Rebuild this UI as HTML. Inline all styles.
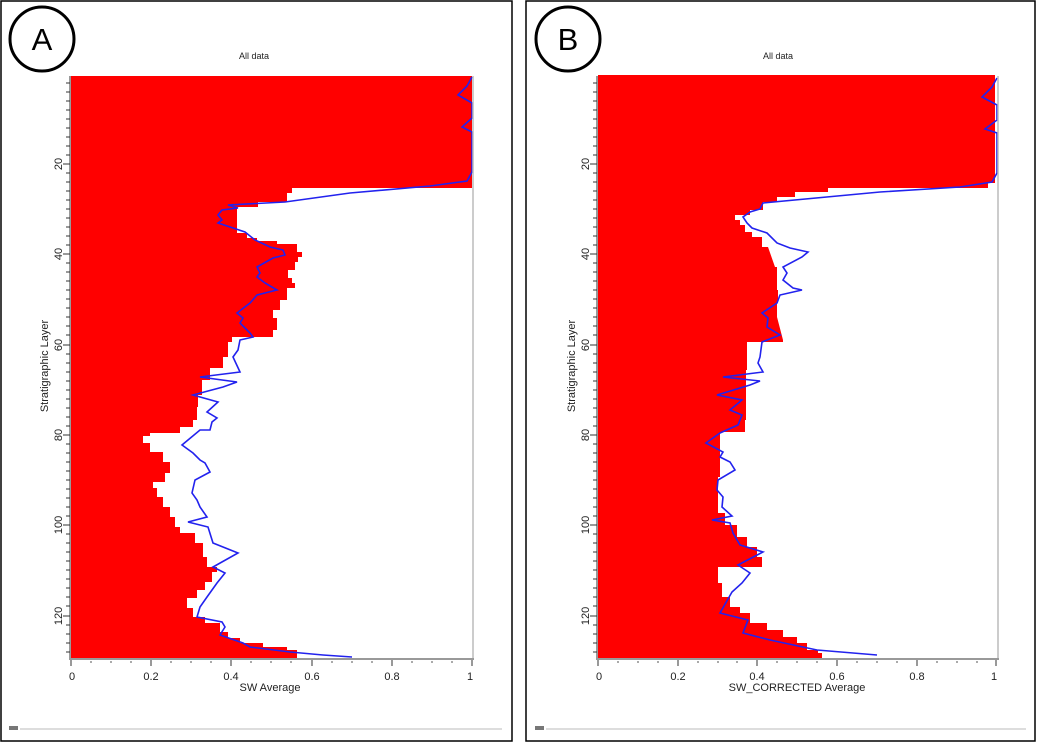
<!DOCTYPE html>
<html><head><meta charset="utf-8"><style>
html,body{margin:0;padding:0;background:#fff;}
svg{display:block;}
text{font-family:"Liberation Sans",sans-serif;fill:#222;}
</style></head><body>
<svg width="1037" height="743" viewBox="0 0 1037 743" xmlns="http://www.w3.org/2000/svg">
<rect x="1" y="1" width="511" height="740" fill="#fff" stroke="#000" stroke-width="1.5"/>
<rect x="526" y="1" width="509" height="740" fill="#fff" stroke="#000" stroke-width="1.5"/>

<!-- Panel A -->
<circle cx="42" cy="39" r="32" fill="none" stroke="#000" stroke-width="3"/>
<text x="42" y="50" font-size="31" text-anchor="middle" style="fill:#000">A</text>
<text x="254" y="59" font-size="9" text-anchor="middle">All data</text>
<polygon fill="#ff0000" points="71,76 472,76 472,188 292,188 292,193 287,193 287,202 258,202 258,207 237,207 237,233 247,233 247,238 257,238 257,241 277,241 277,244 297,244 297,252 302,252 302,257 298,257 298,262 295,262 295,270 288,270 288,278 292,278 292,283 295,283 295,288 287,288 287,300 280,300 280,310 273,310 273,318 277,318 277,330 273,330 273,337 232,337 232,342 228,342 228,357 223,357 223,368 210,368 210,380 202,380 202,395 198,395 198,407 197,407 197,420 193,420 193,427 180,427 180,433 150,433 150,436 143,436 143,443 150,443 150,452 163,452 163,462 170,462 170,473 165,473 165,482 153,482 153,488 157,488 157,497 163,497 163,507 170,507 170,517 175,517 175,527 180,527 180,533 195,533 195,543 203,543 203,557 207,557 207,567 217,567 217,572 212,572 212,582 205,582 205,590 197,590 197,598 187,598 187,608 193,608 193,617 205,617 205,623 220,623 220,632 228,632 228,638 240,638 240,643 263,643 263,647 287,647 287,650 297,650 297,658 71,658"/>
<polyline fill="none" stroke="#2222ee" stroke-width="1.6" points="472,77 467,86 458,95 472,103 472,118 462,127 472,132 472,172 467,181 430,186 350,193 285,202 228,205 238,208 222,210 218,215 222,220 218,223 245,232 255,240 270,247 283,250 285,255 273,258 257,267 260,273 257,277 265,283 277,290 257,295 250,303 237,313 243,318 240,323 250,333 253,337 240,340 238,350 233,357 240,372 200,377 237,382 223,387 193,395 218,402 207,412 217,418 212,422 210,430 200,430 182,445 193,453 200,460 205,463 210,472 195,480 192,493 197,500 200,507 207,517 188,522 208,527 213,543 238,553 213,567 225,573 217,583 207,597 200,607 197,617 222,622 225,627 220,635 243,643 250,647 290,652 323,655 352,657"/>
<line x1="473" y1="76" x2="473" y2="659" stroke="#bbb" stroke-width="1.5"/>
<line x1="70" y1="76" x2="70" y2="660" stroke="#333" stroke-width="1"/>
<line x1="70" y1="659" x2="474" y2="659" stroke="#999" stroke-width="2"/>
<g stroke="#333" stroke-width="1">
<line x1="71" y1="660" x2="71" y2="666"/><line x1="151" y1="660" x2="151" y2="666"/><line x1="231" y1="660" x2="231" y2="666"/><line x1="312" y1="660" x2="312" y2="666"/><line x1="392" y1="660" x2="392" y2="666"/><line x1="472" y1="660" x2="472" y2="666"/>
</g>
<g stroke="#555" stroke-width="1">
<line x1="91" y1="661" x2="91" y2="663"/><line x1="111" y1="661" x2="111" y2="663"/><line x1="131" y1="661" x2="131" y2="663"/>
<line x1="171" y1="661" x2="171" y2="663"/><line x1="191" y1="661" x2="191" y2="663"/><line x1="211" y1="661" x2="211" y2="663"/>
<line x1="251" y1="661" x2="251" y2="663"/><line x1="271" y1="661" x2="271" y2="663"/><line x1="291" y1="661" x2="291" y2="663"/>
<line x1="332" y1="661" x2="332" y2="663"/><line x1="352" y1="661" x2="352" y2="663"/><line x1="372" y1="661" x2="372" y2="663"/>
<line x1="412" y1="661" x2="412" y2="663"/><line x1="432" y1="661" x2="432" y2="663"/><line x1="452" y1="661" x2="452" y2="663"/>
</g>
<g font-size="11" text-anchor="middle">
<text x="72" y="680">0</text><text x="151" y="680">0.2</text><text x="231" y="680">0.4</text><text x="312" y="680">0.6</text><text x="392" y="680">0.8</text><text x="470" y="680">1</text>
</g>
<text x="270" y="691" font-size="11" text-anchor="middle">SW Average</text>
<g stroke="#333" stroke-width="1" id="yticksA">
<line x1="66" y1="83" x2="70" y2="83"/><line x1="66" y1="92" x2="70" y2="92"/><line x1="66" y1="101" x2="70" y2="101"/><line x1="66" y1="110" x2="70" y2="110"/><line x1="66" y1="119" x2="70" y2="119"/><line x1="66" y1="128" x2="70" y2="128"/><line x1="66" y1="137" x2="70" y2="137"/><line x1="66" y1="146" x2="70" y2="146"/><line x1="66" y1="155" x2="70" y2="155"/><line x1="63" y1="164" x2="70" y2="164"/>
<line x1="66" y1="173" x2="70" y2="173"/><line x1="66" y1="182" x2="70" y2="182"/><line x1="66" y1="191" x2="70" y2="191"/><line x1="66" y1="200" x2="70" y2="200"/><line x1="66" y1="209" x2="70" y2="209"/><line x1="66" y1="218" x2="70" y2="218"/><line x1="66" y1="227" x2="70" y2="227"/><line x1="66" y1="236" x2="70" y2="236"/><line x1="66" y1="245" x2="70" y2="245"/><line x1="63" y1="254" x2="70" y2="254"/>
<line x1="66" y1="263" x2="70" y2="263"/><line x1="66" y1="272" x2="70" y2="272"/><line x1="66" y1="281" x2="70" y2="281"/><line x1="66" y1="290" x2="70" y2="290"/><line x1="66" y1="299" x2="70" y2="299"/><line x1="66" y1="308" x2="70" y2="308"/><line x1="66" y1="317" x2="70" y2="317"/><line x1="66" y1="326" x2="70" y2="326"/><line x1="66" y1="335" x2="70" y2="335"/><line x1="63" y1="345" x2="70" y2="345"/>
<line x1="66" y1="354" x2="70" y2="354"/><line x1="66" y1="363" x2="70" y2="363"/><line x1="66" y1="372" x2="70" y2="372"/><line x1="66" y1="381" x2="70" y2="381"/><line x1="66" y1="390" x2="70" y2="390"/><line x1="66" y1="399" x2="70" y2="399"/><line x1="66" y1="408" x2="70" y2="408"/><line x1="66" y1="417" x2="70" y2="417"/><line x1="66" y1="426" x2="70" y2="426"/><line x1="63" y1="435" x2="70" y2="435"/>
<line x1="66" y1="444" x2="70" y2="444"/><line x1="66" y1="453" x2="70" y2="453"/><line x1="66" y1="462" x2="70" y2="462"/><line x1="66" y1="471" x2="70" y2="471"/><line x1="66" y1="480" x2="70" y2="480"/><line x1="66" y1="489" x2="70" y2="489"/><line x1="66" y1="498" x2="70" y2="498"/><line x1="66" y1="507" x2="70" y2="507"/><line x1="66" y1="516" x2="70" y2="516"/><line x1="63" y1="525" x2="70" y2="525"/>
<line x1="66" y1="534" x2="70" y2="534"/><line x1="66" y1="543" x2="70" y2="543"/><line x1="66" y1="552" x2="70" y2="552"/><line x1="66" y1="561" x2="70" y2="561"/><line x1="66" y1="570" x2="70" y2="570"/><line x1="66" y1="579" x2="70" y2="579"/><line x1="66" y1="588" x2="70" y2="588"/><line x1="66" y1="597" x2="70" y2="597"/><line x1="66" y1="606" x2="70" y2="606"/><line x1="63" y1="616" x2="70" y2="616"/>
<line x1="66" y1="625" x2="70" y2="625"/><line x1="66" y1="634" x2="70" y2="634"/><line x1="66" y1="643" x2="70" y2="643"/><line x1="66" y1="652" x2="70" y2="652"/>
</g>
<g font-size="11" text-anchor="middle">
<text transform="translate(62,164) rotate(-90)">20</text>
<text transform="translate(62,254) rotate(-90)">40</text>
<text transform="translate(62,345) rotate(-90)">60</text>
<text transform="translate(62,435) rotate(-90)">80</text>
<text transform="translate(62,525) rotate(-90)">100</text>
<text transform="translate(62,616) rotate(-90)">120</text>
</g>
<text transform="translate(48,366) rotate(-90)" font-size="11" text-anchor="middle">Stratigraphic Layer</text>
<line x1="20" y1="729" x2="502" y2="729" stroke="#bbb" stroke-width="1"/>
<rect x="9" y="726" width="9" height="4" fill="#777"/>

<!-- Panel B -->
<circle cx="568" cy="39" r="32" fill="none" stroke="#000" stroke-width="3"/>
<text x="568" y="50" font-size="31" text-anchor="middle" style="fill:#000">B</text>
<text x="778" y="59" font-size="9" text-anchor="middle">All data</text>
<polygon fill="#ff0000" points="598,75 995,75 995,183 988,183 988,188 828,188 828,192 795,192 795,197 777,197 777,202 763,202 763,210 750,210 750,215 735,215 735,220 740,220 740,225 745,225 745,232 752,232 752,237 762,237 762,247 768,247 775,267 777,267 777,290 778,290 778,303 777,303 777,317 783,340 783,342 747,342 747,370 746,370 746,420 745,420 745,432 720,432 720,477 718,477 718,513 725,513 725,525 737,525 737,537 747,537 747,547 757,547 757,557 762,557 762,567 718,567 718,583 722,583 722,597 730,597 730,607 740,607 740,613 750,613 750,623 767,623 767,630 783,630 783,637 797,637 797,643 807,643 807,650 818,650 818,653 822,653 822,658 598,658"/>
<polyline fill="none" stroke="#2222ee" stroke-width="1.6" points="997,78 992,87 982,97 997,105 997,120 985,129 997,133 997,173 992,182 960,187 880,192 763,203 760,209 750,212 743,217 747,223 752,228 767,233 777,243 790,248 808,252 802,257 783,267 787,273 783,280 793,288 802,290 780,295 777,303 762,313 768,318 767,327 780,335 762,342 760,357 758,363 763,372 723,377 760,381 750,385 717,395 742,400 730,410 742,415 738,425 720,433 706,443 723,452 720,457 730,462 735,470 718,480 717,490 723,497 722,507 732,516 712,520 730,523 733,533 740,545 763,552 738,565 750,573 742,583 732,592 720,613 748,620 743,633 770,640 817,650 877,655"/>
<line x1="998" y1="76" x2="998" y2="659" stroke="#bbb" stroke-width="1.5"/>
<line x1="597" y1="76" x2="597" y2="660" stroke="#333" stroke-width="1"/>
<line x1="597" y1="659" x2="999" y2="659" stroke="#999" stroke-width="2"/>
<g stroke="#333" stroke-width="1">
<line x1="598" y1="660" x2="598" y2="666"/><line x1="678" y1="660" x2="678" y2="666"/><line x1="757" y1="660" x2="757" y2="666"/><line x1="837" y1="660" x2="837" y2="666"/><line x1="917" y1="660" x2="917" y2="666"/><line x1="996" y1="660" x2="996" y2="666"/>
</g>
<g stroke="#555" stroke-width="1">
<line x1="618" y1="661" x2="618" y2="663"/><line x1="638" y1="661" x2="638" y2="663"/><line x1="658" y1="661" x2="658" y2="663"/>
<line x1="698" y1="661" x2="698" y2="663"/><line x1="718" y1="661" x2="718" y2="663"/><line x1="737" y1="661" x2="737" y2="663"/>
<line x1="777" y1="661" x2="777" y2="663"/><line x1="797" y1="661" x2="797" y2="663"/><line x1="817" y1="661" x2="817" y2="663"/>
<line x1="857" y1="661" x2="857" y2="663"/><line x1="877" y1="661" x2="877" y2="663"/><line x1="897" y1="661" x2="897" y2="663"/>
<line x1="937" y1="661" x2="937" y2="663"/><line x1="957" y1="661" x2="957" y2="663"/><line x1="977" y1="661" x2="977" y2="663"/>
</g>
<g font-size="11" text-anchor="middle">
<text x="599" y="680">0</text><text x="678" y="680">0.2</text><text x="757" y="680">0.4</text><text x="837" y="680">0.6</text><text x="917" y="680">0.8</text><text x="994" y="680">1</text>
</g>
<text x="797" y="691" font-size="11" text-anchor="middle">SW_CORRECTED Average</text>
<use href="#yticksA" transform="translate(527,0)"/>
<g font-size="11" text-anchor="middle">
<text transform="translate(589,164) rotate(-90)">20</text>
<text transform="translate(589,254) rotate(-90)">40</text>
<text transform="translate(589,345) rotate(-90)">60</text>
<text transform="translate(589,435) rotate(-90)">80</text>
<text transform="translate(589,525) rotate(-90)">100</text>
<text transform="translate(589,616) rotate(-90)">120</text>
</g>
<text transform="translate(575,366) rotate(-90)" font-size="11" text-anchor="middle">Stratigraphic Layer</text>
<line x1="546" y1="729" x2="1026" y2="729" stroke="#bbb" stroke-width="1"/>
<rect x="535" y="726" width="9" height="4" fill="#777"/>
</svg>
</body></html>
